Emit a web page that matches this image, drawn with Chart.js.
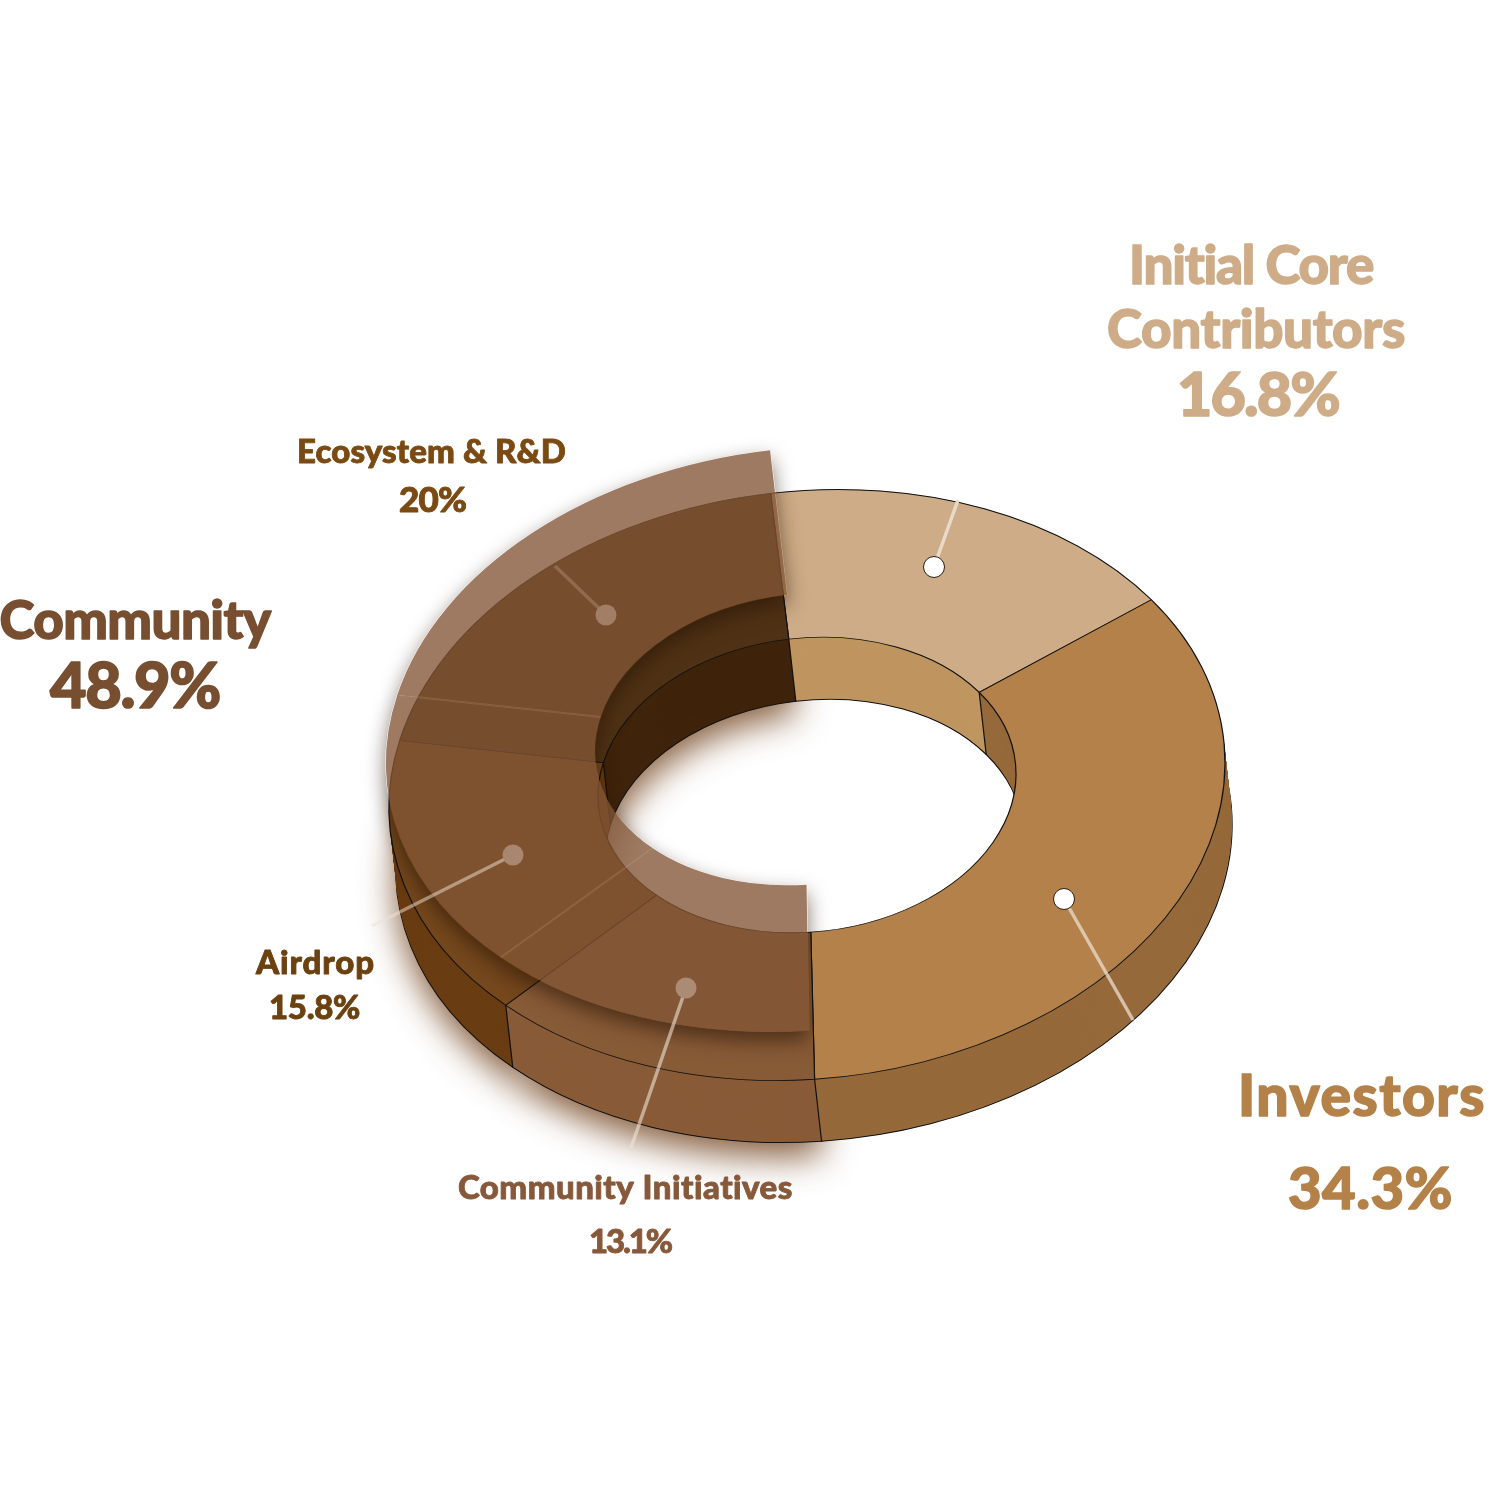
<!DOCTYPE html>
<html>
<head>
<meta charset="utf-8">
<style>
  html, body { margin: 0; background: #fff; }
  canvas { display: block; }
</style>
<script src="https://cdn.jsdelivr.net/npm/chart.js@4"></script>
</head>
<body>
<canvas id="chart" width="1500" height="1500"></canvas>
<script>
const categories = ['Initial Core Contributors', 'Investors', 'Community Initiatives', 'Airdrop', 'Ecosystem & R&D'];
const shares = [16.8, 34.3, 13.1, 15.8, 20];
const communityShare = 48.9;

const topColors = ['#ceac87', '#b38149', '#885b37', '#75481d', '#4f3215'];
const wallColors = ['#bf9560', '#96693a', '#895b37', '#6a3c12', '#3f240b'];
const lidSlices = [2, 3, 4];

// projection of the flat ring onto the page
const faceX = 807, faceY = 785;
const squash = 0.705, tilt = -0.053;
const depthX = 7, depthY = 62;
const baseFace = { dx: 0, dy: 0, sq: squash, lean: 0 };
const lidFace = { dx: -3, dy: -46, sq: 0.698, lean: -0.006 };

function faceTransform(ctx, chart, face) {
  const arc = chart.getDatasetMeta(0).data[0];
  ctx.translate(faceX + face.dx, faceY + face.dy);
  ctx.transform(1, tilt, face.lean, face.sq, 0, 0);
  ctx.translate(-arc.x, -arc.y);
}

function wallFace(d) {
  return { dx: depthX * d / depthY, dy: d, sq: squash, lean: 0 };
}

function paint(ctx, arc, patch) {
  const saved = arc.options;
  arc.options = Object.assign({}, saved, patch);
  arc.draw(ctx);
  arc.options = saved;
}

function project(angle, radius, face) {
  const u = Math.cos(angle) * radius, v = Math.sin(angle) * radius;
  return [faceX + face.dx + u + face.lean * v, faceY + face.dy + tilt * u + face.sq * v];
}

function line(ctx, a, b) {
  ctx.beginPath();
  ctx.moveTo(a[0], a[1]);
  ctx.lineTo(b[0], b[1]);
  ctx.stroke();
}

function lidShadow(chart, arcs) {
  // painted on its own layer so it can be cut away under the lid and off Investors
  const layer = document.createElement('canvas');
  layer.width = chart.width;
  layer.height = chart.height;
  const c = layer.getContext('2d');
  c.save();
  c.shadowColor = 'rgba(40,20,5,0.62)';
  c.shadowBlur = 20;
  c.shadowOffsetX = 3000;
  c.shadowOffsetY = 9;
  c.translate(-3000, 0);
  faceTransform(c, chart, lidFace);
  lidSlices.forEach(i => paint(c, arcs[i], { backgroundColor: '#000', borderWidth: 0 }));
  c.restore();
  c.globalCompositeOperation = 'destination-out';
  c.save();
  faceTransform(c, chart, lidFace);
  lidSlices.forEach(i => paint(c, arcs[i], { backgroundColor: '#000', borderColor: '#000', borderWidth: 1 }));
  c.restore();
  c.save();
  faceTransform(c, chart, baseFace);
  paint(c, arcs[1], { backgroundColor: '#000', borderWidth: 0 });
  c.restore();
  return layer;
}

const ringWalls = {
  id: 'ringWalls',
  beforeDatasetsDraw(chart) {
    const ctx = chart.ctx;
    const arcs = chart.getDatasetMeta(0).data;

    // soft glow on the page under the left part
    ctx.save();
    ctx.shadowColor = 'rgba(105,55,15,0.8)';
    ctx.shadowBlur = 34;
    ctx.shadowOffsetY = 14;
    faceTransform(ctx, chart, wallFace(depthY));
    lidSlices.forEach(i => paint(ctx, arcs[i], { backgroundColor: wallColors[i], borderWidth: 0 }));
    ctx.restore();

    // bottom outline
    ctx.save();
    faceTransform(ctx, chart, wallFace(depthY));
    arcs.forEach((arc, i) => paint(ctx, arc, { backgroundColor: wallColors[i], borderColor: '#111', borderWidth: 1.4 }));
    ctx.restore();

    // stack the ring upwards for the side walls
    for (let d = depthY - 1; d > 0; d--) {
      ctx.save();
      faceTransform(ctx, chart, wallFace(d));
      arcs.forEach((arc, i) => paint(ctx, arc, { backgroundColor: wallColors[i], borderWidth: 0 }));
      ctx.restore();
    }

    // vertical edges where slices meet on the walls
    ctx.save();
    ctx.strokeStyle = '#111';
    ctx.lineWidth = 1.2;
    arcs.forEach(arc => {
      const r = Math.sin(arc.startAngle) > 0 ? arc.outerRadius : arc.innerRadius;
      line(ctx, project(arc.startAngle, r, baseFace), project(arc.startAngle, r, wallFace(depthY)));
    });
    ctx.restore();

    ctx.save();
    faceTransform(ctx, chart, baseFace);
  },
  afterDatasetsDraw(chart) {
    const ctx = chart.ctx;
    const arcs = chart.getDatasetMeta(0).data;
    ctx.restore();

    ctx.drawImage(lidShadow(chart, arcs), 0, 0);

    // raised translucent Community part
    ctx.save();
    faceTransform(ctx, chart, lidFace);
    lidSlices.forEach(i => paint(ctx, arcs[i], { backgroundColor: 'rgba(130,85,53,0.78)', borderWidth: 0 }));
    ctx.restore();

    ctx.save();
    ctx.strokeStyle = 'rgba(172,128,98,0.38)';
    ctx.lineWidth = 2;
    [3, 4].forEach(i => {
      const arc = arcs[i];
      line(ctx, project(arc.startAngle, arc.outerRadius, lidFace), project(arc.startAngle, arc.innerRadius, lidFace));
    });
    ctx.restore();

    drawLeaders(ctx);
    drawLabels(ctx);
  }
};

function drawLeaders(ctx) {
  const leaders = [
    { dot: [934, 567], end: [958, 500], line: '#e9dac8', fill: '#fff', edge: '#2a1c10' },
    { dot: [1064, 899], end: [1133, 1020], line: 'rgba(236,222,205,0.75)', fill: '#fff', edge: '#2a1c10' },
    { dot: [606, 615], end: [555, 566], line: '#946a4c', fill: '#a37e66' },
    { dot: [513, 855], end: [372, 926], line: 'rgba(238,226,214,0.5)', fill: '#a98670' },
    { dot: [686, 988], end: [631, 1148], line: 'rgba(238,226,214,0.6)', fill: '#ab8b74' }
  ];
  leaders.forEach(l => {
    ctx.save();
    ctx.strokeStyle = l.line;
    ctx.lineWidth = 3.5;
    line(ctx, l.dot, l.end);
    ctx.beginPath();
    ctx.arc(l.dot[0], l.dot[1], 10.5, 0, Math.PI * 2);
    ctx.fillStyle = l.fill;
    ctx.fill();
    if (l.edge) {
      ctx.strokeStyle = l.edge;
      ctx.lineWidth = 1;
      ctx.stroke();
    }
    ctx.restore();
  });
}

function drawLabels(ctx) {
  const pct = v => v + '%';
  const labels = [
    ['Initial Core', 1251.5, 284, 53, 245, '#ceac87'],
    ['Contributors', 1256, 348, 53, 298, '#ceac87'],
    [pct(shares[0]), 1258, 416, 61, 162, '#ceac87'],
    ['Community', 135, 639, 53, 271, '#774e30'],
    [pct(communityShare), 135, 708, 63, 170, '#774e30'],
    [categories[4], 431.5, 463, 33, 269, '#7a4a12'],
    [pct(shares[4]), 432.5, 512, 35, 67, '#7a4a12'],
    [categories[3], 315.5, 974, 33, 119, '#6b4110'],
    [pct(shares[3]), 314.5, 1019, 33, 91, '#6b4110'],
    [categories[2], 626, 1199, 33, 336, '#87593a'],
    [pct(shares[2]), 630, 1253, 33, 82, '#87593a'],
    [categories[1], 1362, 1116, 57, 248, '#b48249'],
    [pct(shares[1]), 1370.5, 1209, 58, 165, '#b48249']
  ];
  ctx.save();
  ctx.textAlign = 'left';
  ctx.textBaseline = 'alphabetic';
  ctx.lineJoin = 'round';
  labels.forEach(([text, cx, y, size, width, color]) => {
    ctx.font = '900 ' + size + 'px Lato';
    ctx.letterSpacing = '0px';
    const natural = ctx.measureText(text).width;
    ctx.letterSpacing = ((width - natural) / text.length) + 'px';
    ctx.fillStyle = color;
    ctx.strokeStyle = color;
    ctx.lineWidth = size * 0.026;
    ctx.strokeText(text, cx - width / 2, y);
    ctx.fillText(text, cx - width / 2, y);
  });
  ctx.restore();
}

new Chart(document.getElementById('chart'), {
  type: 'doughnut',
  data: {
    labels: categories,
    datasets: [{
      data: shares,
      backgroundColor: topColors,
      borderColor: '#111',
      borderWidth: 1.2,
      clip: false
    }]
  },
  options: {
    responsive: false,
    animation: false,
    rotation: -5,
    radius: 418,
    cutout: '50%',
    plugins: {
      legend: { display: false },
      tooltip: { enabled: false }
    }
  },
  plugins: [ringWalls]
});
</script>
</body>
</html>
